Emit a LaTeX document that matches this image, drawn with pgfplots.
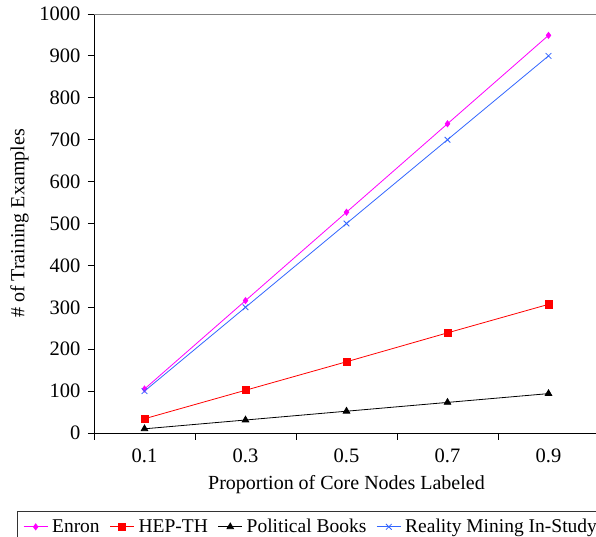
\documentclass[border=0pt]{standalone}
\usepackage{fontspec}
\setmainfont{Liberation Serif}
\usepackage{pgfplots}
\pgfplotsset{compat=1.18}
\definecolor{enron}{RGB}{255,0,255}
\definecolor{hep}{RGB}{255,0,0}
\definecolor{rm}{RGB}{51,102,255}
\begin{document}
\begin{tikzpicture}[x=1pt,y=1pt]
\clip (-94,-104) rectangle (502,433);
\begin{axis}[
  at={(0,0)}, anchor=south west,
  scale only axis, width=505pt, height=419pt,
  xmin=-0.5, xmax=4.5, ymin=0, ymax=1000,
  xtick={0,...,4}, xticklabels={0.1,0.3,0.5,0.7,0.9},
  minor xtick={-0.5,0.5,1.5,2.5,3.5,4.5},
  ytick={0,100,...,1000},
  axis lines*=left,
  tick align=outside,
  major tick length=6pt,
  minor tick length=7pt,
  major x tick style={draw=none},
  every tick/.style={black, line width=0.8pt},
  axis line style={line width=0.8pt, black, -},
  extra y ticks={1000}, extra y tick labels={},
  extra y tick style={grid=major, major grid style={gray, line width=0.8pt}},
  /pgf/number format/assume math mode=true,
  /pgf/number format/1000 sep={},
  ticklabel style={font=\fontsize{20.5}{22}\selectfont},
  yticklabel style={xshift=-4pt},
  xticklabel style={yshift=-6pt},
  label style={font=\fontsize{20}{22}\selectfont},
  xlabel={Proportion of Core Nodes Labeled},
  ylabel={\# of Training Examples},
  xlabel style={yshift=-6pt},
  ylabel style={yshift=-8pt},
  legend columns=4,
  legend style={at={(rel axis cs:-0.1525,-0.1862)}, anchor=north west,
    draw=black!80, line width=0.6pt, font=\fontsize{19.5}{21}\selectfont,
    nodes={inner sep=0pt},
    inner xsep=6pt, inner ysep=8pt,
    /tikz/every odd column/.append style={column sep=4pt},
    /tikz/every even column/.append style={column sep=10pt}},
  legend image code/.code={\draw[mark repeat=2,mark phase=2,line width=0.8pt] plot coordinates {(0pt,0pt) (12pt,0pt) (24pt,0pt)};},
  clip=false,
]
\addplot[enron, line width=0.8pt, mark=diamond*, mark size=3pt] coordinates {(0,105) (1,316) (2,527) (3,738) (4,949)};
\addlegendentry{Enron}
\addplot[hep, line width=0.8pt, mark=square*, mark size=3.6pt] coordinates {(0,34) (1,102) (2,170) (3,239) (4,307)};
\addlegendentry{HEP-TH}
\addplot[black, line width=0.8pt, mark=triangle*, mark size=3.8pt] coordinates {(0,10) (1,31) (2,52) (3,73) (4,94)};
\addlegendentry{Political Books}
\addplot[rm, line width=0.8pt, mark=x, mark size=4pt] coordinates {(0,100) (1,300) (2,500) (3,700) (4,900)};
\addlegendentry{Reality Mining In-Study}
\end{axis}
\end{tikzpicture}
\end{document}
